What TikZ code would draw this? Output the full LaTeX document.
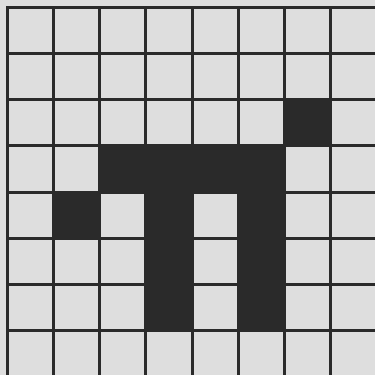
\documentclass[tikz,border=0pt]{standalone}
\definecolor{paper}{HTML}{DEDEDE}
\definecolor{ink}{HTML}{2A2A2A}
\begin{document}
\begin{tikzpicture}[x=1pt,y=-1pt,
  gridline/.style={draw=ink,line width=3pt,line cap=rect},
  filled/.style={fill=ink}]
\useasboundingbox (0,0) rectangle (375,375);
\fill[paper] (0,0) rectangle (375,375);
\begin{scope}
\clip (0,0) rectangle (375,375);
\def\cs{46.25}
% black cells (col,row)
\foreach \c/\r in {6/2, 2/3, 3/3, 4/3, 5/3, 1/4, 3/4, 5/4, 3/5, 5/5, 3/6, 5/6}{
  \fill[filled] ({7+\c*\cs},{7+\r*\cs}) rectangle ({7+(\c+1)*\cs},{7+(\r+1)*\cs});
}
\foreach \i in {0,...,8}{
  \draw[gridline] ({7+\i*\cs},7) -- ({7+\i*\cs},380);
  \draw[gridline] (7,{7+\i*\cs}) -- (380,{7+\i*\cs});
}
\end{scope}
\end{tikzpicture}
\end{document}
